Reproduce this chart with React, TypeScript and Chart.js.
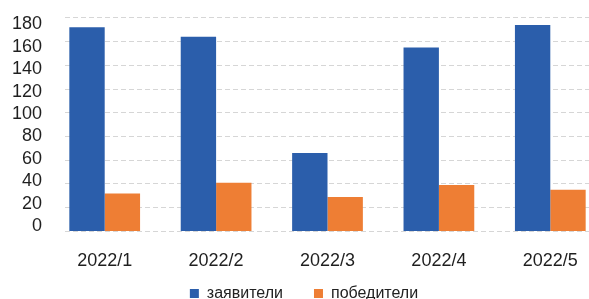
import React, { useEffect, useRef } from "react";
import { Chart, registerables } from "chart.js";

Chart.register(...registerables);

const categories = ["2022/1", "2022/2", "2022/3", "2022/4", "2022/5"];
const seriesNames = ["заявители", "победители"];
const applicants = [172, 164, 66, 155, 174];
const winners = [32, 41, 29, 39, 35];
const yTickValues = [0, 20, 40, 60, 80, 100, 120, 140, 160, 180];

const FAMILY = '"Liberation Sans", Arial, Helvetica, sans-serif';

// Excel-style plot: gridlines begin slightly right of the first category slot
const gridMask = {
  id: "gridMask",
  beforeDatasetsDraw(chart: any) {
    const { ctx, chartArea } = chart;
    ctx.save();
    ctx.fillStyle = "#ffffff";
    ctx.fillRect(chartArea.left - 1, chartArea.top - 3, 14.5, chartArea.bottom - chartArea.top + 6);
    ctx.restore();
  },
};

// Pull the legend up so it sits close under the category labels
const legendLift = {
  id: "legendLift",
  afterLayout(chart: any) {
    const l = chart.legend;
    if (!l) return;
    const top = chart.chartArea.bottom + 23;
    l.top = top;
    l.bottom = top + l.height;
  },
};

export default function App() {
  const ref = useRef<HTMLCanvasElement>(null);

  useEffect(() => {
    const canvas = ref.current!;
    const tickFont = { family: FAMILY, size: 18 };
    const chart = new Chart(canvas, {
      type: "bar",
      data: {
        labels: categories,
        datasets: [
          {
            label: seriesNames[0],
            data: applicants,
            backgroundColor: "#2B5EAB",
            borderWidth: 0,
            categoryPercentage: 0.635,
            barPercentage: 1,
          },
          {
            label: seriesNames[1],
            data: winners,
            backgroundColor: "#EE7E34",
            borderWidth: 0,
            categoryPercentage: 0.635,
            barPercentage: 1,
          },
        ],
      },
      options: {
        responsive: false,
        animation: false,
        devicePixelRatio: 1,
        layout: { padding: { left: 2, top: 14, right: 0, bottom: 0 } },
        plugins: {
          legend: {
            position: "bottom",
            labels: {
              boxWidth: 9,
              boxHeight: 9,
              padding: 31,
              color: "#222222",
              font: { family: FAMILY, size: 16 },
            },
          },
          tooltip: { enabled: false },
        },
        scales: {
          x: {
            grid: { display: false, drawTicks: false },
            border: { display: false },
            ticks: { color: "#1f1f1f", font: tickFont, padding: 19, maxRotation: 0, autoSkip: false },
          },
          y: {
            min: 0,
            max: 180,
            ticks: { display: false, stepSize: 20 },
            grid: { color: "#D6D6D6", lineWidth: 1, drawTicks: false },
            border: { display: false, dash: [5, 3] },
            afterFit: (s: any) => {
              s.width = 0;
            },
          },
          yl: {
            position: "left",
            min: -4.84,
            max: 185.96,
            grid: { display: false, drawTicks: false },
            border: { display: false },
            ticks: { color: "#1f1f1f", font: tickFont, padding: 7, autoSkip: false },
            afterBuildTicks: (s: any) => {
              s.ticks = yTickValues.map((v) => ({ value: v }));
            },
            afterFit: (s: any) => {
              s.width = 47;
            },
          },
        },
      } as any,
      plugins: [gridMask, legendLift],
    });
    return () => chart.destroy();
  }, []);

  return (
    <div
      style={{
        position: "fixed",
        left: 0,
        top: 0,
        width: 589,
        height: 299,
        overflow: "hidden",
        background: "#ffffff",
      }}
    >
      <canvas ref={ref} width={606} height={348} style={{ display: "block" }} />
    </div>
  );
}
